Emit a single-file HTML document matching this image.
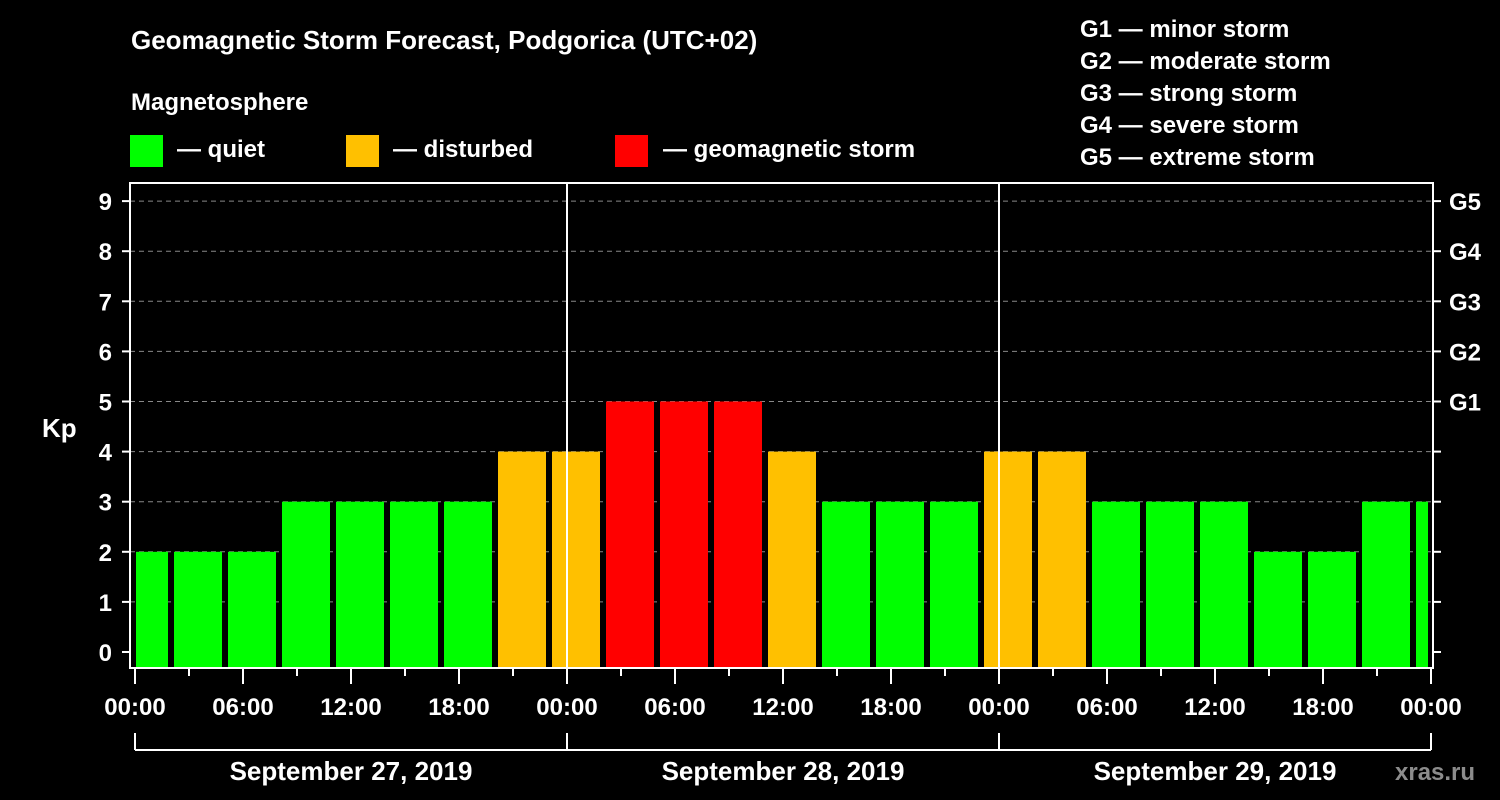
<!DOCTYPE html>
<html><head><meta charset="utf-8"><style>
html,body{margin:0;padding:0;background:#000;width:1500px;height:800px;overflow:hidden}
svg text{font-family:"Liberation Sans",sans-serif;font-weight:bold;fill:#fff}
</style></head><body>
<svg id="chart" width="1500" height="800" viewBox="0 0 1500 800" xmlns="http://www.w3.org/2000/svg">
<rect width="1500" height="800" fill="#000"/>
<text x="131" y="49" font-size="26">Geomagnetic Storm Forecast, Podgorica (UTC+02)</text>
<text x="131" y="110" font-size="24">Magnetosphere</text>
<g><rect x="130" y="135" width="33" height="32" fill="#00ff00"/><text x="177" y="157" font-size="24">— quiet</text></g>
<g><rect x="346" y="135" width="33" height="32" fill="#ffc000"/><text x="393" y="157" font-size="24">— disturbed</text></g>
<g><rect x="615" y="135" width="33" height="32" fill="#ff0000"/><text x="663" y="157" font-size="24">— geomagnetic storm</text></g>
<g font-size="24">
<text x="1080" y="37">G1 — minor storm</text>
<text x="1080" y="69">G2 — moderate storm</text>
<text x="1080" y="101">G3 — strong storm</text>
<text x="1080" y="133">G4 — severe storm</text>
<text x="1080" y="165">G5 — extreme storm</text>
</g>
<text x="42" y="437" font-size="26">Kp</text>
<g id="grid"></g>
<g id="bars"></g>
<g id="axes"></g>
<text x="1395" y="780" font-size="24" style="fill:#8c8c8c">xras.ru</text>
</svg>
<script>
const kpValues = [2,2,2,3,3,3,3,4,4,5,5,5,4,3,3,3,4,4,3,3,3,2,2,3,3];
const yTicks = [0,1,2,3,4,5,6,7,8,9];
const gLabels = ["G1","G2","G3","G4","G5"];
const gLevels = [5,6,7,8,9];
const xTickLabels = ["00:00","06:00","12:00","18:00","00:00","06:00","12:00","18:00","00:00","06:00","12:00","18:00","00:00"];
const dayLabels = ["September 27, 2019","September 28, 2019","September 29, 2019"];

const NS="http://www.w3.org/2000/svg";
const L=130,R=1433,T=183,B=668;
const x0=135, pxPerHour=18;
const xs=h=>x0+h*pxPerHour;
const ys=v=>652-v*50.1;
function mk(tag,attrs,parent){const e=document.createElementNS(NS,tag);for(const k in attrs)e.setAttribute(k,attrs[k]);parent.appendChild(e);return e;}
const grid=document.getElementById('grid'),bars=document.getElementById('bars'),axes=document.getElementById('axes');
yTicks.forEach(v=>{
  if(v>0){const g=mk('line',{x1:L,x2:R,y1:ys(v),y2:ys(v),stroke:'#888','stroke-dasharray':'5,4','stroke-width':1},grid);
  
  }
  const t=mk('text',{x:112,y:ys(v)+9,'font-size':24,'text-anchor':'end'},axes);t.textContent=v;
  
  
  mk('line',{x1:L-8,x2:L,y1:ys(v),y2:ys(v),stroke:'#fff','stroke-width':2},axes);
  mk('line',{x1:R,x2:R+8,y1:ys(v),y2:ys(v),stroke:'#fff','stroke-width':2},axes);
});
gLabels.forEach((g,i)=>{const t=mk('text',{x:1449,y:ys(gLevels[i])+9,'font-size':24},axes);t.textContent=g;
  
  });
kpValues.forEach((v,k)=>{
  let a=xs(3*k)-15,b=xs(3*k)+33;a=Math.max(a,L+6);b=Math.min(b,R-5);
  const c=v>=5?'#ff0000':(v>=4?'#ffc000':'#00ff00');
  const r=mk('rect',{x:a,y:ys(v),width:b-a,height:B-ys(v),fill:c},bars);
  
  
});
[24,48].forEach(h=>mk('line',{x1:xs(h),x2:xs(h),y1:T,y2:B,stroke:'#fff','stroke-width':2},axes));
const fr=mk('rect',{x:L,y:T,width:R-L,height:B-T,fill:'none',stroke:'#fff','stroke-width':2},axes);


for(let h=0;h<=72;h+=3){const major=h%6===0;mk('line',{x1:xs(h),x2:xs(h),y1:B,y2:B+(major?16:8),stroke:'#fff','stroke-width':2},axes);}
xTickLabels.forEach((s,i)=>{const t=mk('text',{x:xs(6*i),y:715,'font-size':24,'text-anchor':'middle'},axes);t.textContent=s;
  
  });
mk('line',{x1:xs(0),x2:xs(72),y1:750,y2:750,stroke:'#fff','stroke-width':2},axes);
for(let d=0;d<=3;d++)mk('line',{x1:xs(24*d),x2:xs(24*d),y1:733,y2:750,stroke:'#fff','stroke-width':2},axes);
dayLabels.forEach((s,i)=>{const t=mk('text',{x:xs(24*i+12),y:780,'font-size':26,'text-anchor':'middle'},axes);t.textContent=s;
  
  });
</script>
</body></html>
